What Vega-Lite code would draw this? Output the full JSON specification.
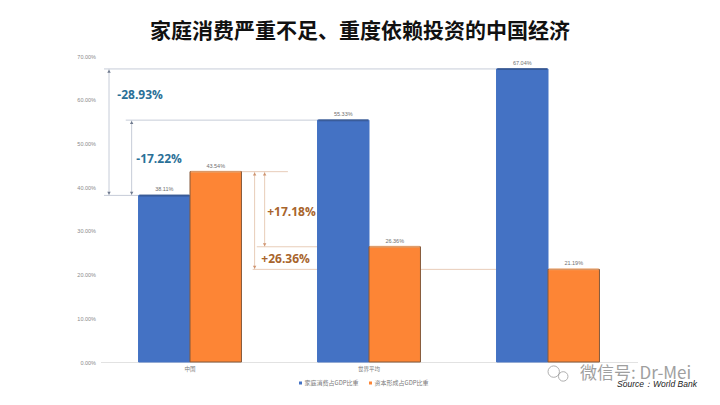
{"$schema":"https://vega.github.io/schema/vega-lite/v6.json","autosize":"none","padding":{"left":100.5,"top":56,"right":82.5,"bottom":43},"width":537,"height":306,"background":"white","title":{"text":"家庭消费严重不足、重度依赖投资的中国经济","font":"Noto Sans CJK SC","fontSize":21,"fontWeight":"bold","color":"#111111","anchor":"middle","frame":"group","dx":-9,"offset":12},"datasets":{"bars":[{"region":"中国","series":"家庭消费占GDP比重","value":0.3811},{"region":"中国","series":"资本形成占GDP比重","value":0.4354},{"region":"世界平均","series":"家庭消费占GDP比重","value":0.5533},{"region":"世界平均","series":"资本形成占GDP比重","value":0.2636},{"region":"美国","series":"家庭消费占GDP比重","value":0.6704},{"region":"美国","series":"资本形成占GDP比重","value":0.2119}],"lines":[{"group":"gap","a":0.0196,"b":2.215,"y":0.6704,"y2":0.6704},{"group":"gap","a":0.141,"b":1.215,"y":0.5533,"y2":0.5533},{"group":"gap","a":0.0196,"b":0.2095,"y":0.3811,"y2":0.3811},{"group":"gap","a":0.0475,"b":0.0475,"y":0.3811,"y2":0.6704},{"group":"gap","a":0.174,"b":0.174,"y":0.3811,"y2":0.5533},{"group":"excess","a":0.785,"b":1.047,"y":0.4354,"y2":0.4354},{"group":"excess","a":0.873,"b":1.215,"y":0.2636,"y2":0.2636},{"group":"excess","a":0.85,"b":2.5,"y":0.2119,"y2":0.2119},{"group":"excess","a":0.861,"b":0.861,"y":0.2119,"y2":0.4354},{"group":"excess","a":0.917,"b":0.917,"y":0.2636,"y2":0.4354}],"arrows":[{"group":"gap","dir":"triangle-up","a":0.0475,"y":0.665},{"group":"gap","dir":"triangle-down","a":0.0475,"y":0.386},{"group":"gap","dir":"triangle-up","a":0.174,"y":0.548},{"group":"gap","dir":"triangle-down","a":0.174,"y":0.386},{"group":"excess","dir":"triangle-up","a":0.861,"y":0.43},{"group":"excess","dir":"triangle-down","a":0.861,"y":0.217},{"group":"excess","dir":"triangle-up","a":0.917,"y":0.43},{"group":"excess","dir":"triangle-down","a":0.917,"y":0.268}],"notes":[{"group":"gap","label":"-28.93%","a":0.221,"y":0.611},{"group":"gap","label":"-17.22%","a":0.327,"y":0.4645},{"group":"excess","label":"+17.18%","a":1.067,"y":0.343},{"group":"excess","label":"+26.36%","a":1.034,"y":0.236}]},"layer":[{"data":{"name":"lines"},"mark":{"type":"rule","strokeWidth":1},"encoding":{"x":{"field":"a","type":"quantitative","scale":{"domain":[0,3],"nice":false,"zero":false},"axis":null},"x2":{"field":"b"},"y":{"field":"y","type":"quantitative","scale":{"domain":[0,0.7],"nice":false},"title":null,"axis":{"format":".2%","values":[0,0.1,0.2,0.3,0.4,0.5,0.6,0.7],"labelFontSize":5.5,"labelColor":"#8a8a8a","labelFont":"Liberation Sans","domain":false,"ticks":false,"grid":false,"labelPadding":5,"title":null}},"y2":{"field":"y2"},"color":{"condition":{"test":"datum.group==='gap'","value":"#c6ccd8"},"value":"#e8cdb9"}}},{"data":{"name":"bars"},"mark":{"type":"bar","strokeWidth":1},"encoding":{"x":{"field":"region","type":"nominal","sort":["中国","世界平均","美国"],"scale":{"paddingInner":0.425,"paddingOuter":0.2125},"title":null,"axis":{"labelAngle":0,"labelFontSize":5.5,"labelColor":"#7a7a7a","labelFont":"Noto Sans CJK SC","labelPadding":4,"ticks":false,"domainColor":"#e2e2e2","labelExpr":"datum.label==='美国'?'':datum.label"}},"xOffset":{"field":"series","type":"nominal","sort":["家庭消费占GDP比重","资本形成占GDP比重"],"scale":{"padding":0}},"y":{"field":"value","type":"quantitative"},"color":{"field":"series","type":"nominal","sort":["家庭消费占GDP比重","资本形成占GDP比重"],"scale":{"range":["#4472c4","#fd8535"]},"legend":{"title":null,"orient":"none","direction":"horizontal","legendX":197,"legendY":324,"symbolType":"square","symbolSize":9,"symbolStrokeWidth":0,"labelFontSize":6,"labelColor":"#7a7a7a","labelFont":"Noto Sans CJK SC","columnPadding":8,"labelOffset":1}},"stroke":{"condition":{"test":"datum.series==='资本形成占GDP比重'","value":"#84583a"},"value":"#4472c4"}}},{"data":{"name":"bars"},"mark":{"type":"tick","thickness":2,"size":50},"encoding":{"x":{"field":"region","type":"nominal","sort":["中国","世界平均","美国"],"scale":{"paddingInner":0.425,"paddingOuter":0.2125},"axis":null},"xOffset":{"field":"series","type":"nominal","sort":["家庭消费占GDP比重","资本形成占GDP比重"],"scale":{"padding":0}},"y":{"field":"value","type":"quantitative"},"color":{"condition":{"test":"datum.series==='资本形成占GDP比重'","value":"#f6ab72"},"value":"#2f4f85"}}},{"data":{"name":"bars"},"mark":{"type":"text","dy":-6,"fontSize":5.5,"color":"#707070","font":"Liberation Sans"},"encoding":{"x":{"field":"region","type":"nominal","sort":["中国","世界平均","美国"],"scale":{"paddingInner":0.425,"paddingOuter":0.2125},"axis":null},"xOffset":{"field":"series","type":"nominal","sort":["家庭消费占GDP比重","资本形成占GDP比重"],"scale":{"padding":0}},"y":{"field":"value","type":"quantitative"},"text":{"field":"value","type":"quantitative","format":".2%"}}},{"data":{"name":"arrows"},"mark":{"type":"point","filled":true,"size":12,"opacity":1},"encoding":{"x":{"field":"a","type":"quantitative","scale":{"domain":[0,3],"nice":false,"zero":false},"axis":null},"y":{"field":"y","type":"quantitative"},"shape":{"field":"dir","type":"nominal","scale":null},"color":{"condition":{"test":"datum.group==='gap'","value":"#6f7a8e"},"value":"#cf9470"}}},{"data":{"name":"notes"},"mark":{"type":"text","fontSize":12,"fontWeight":"bold","font":"Open Sans"},"encoding":{"x":{"field":"a","type":"quantitative","scale":{"domain":[0,3],"nice":false,"zero":false},"axis":null},"y":{"field":"y","type":"quantitative"},"text":{"field":"label"},"color":{"condition":{"test":"datum.group==='gap'","value":"#2a7097"},"value":"#a8642c"}}},{"data":{"values":[{"label":"微信号: Dr-Mei","a":2.679,"y":-0.0275}]},"mark":{"type":"text","fontSize":17,"align":"left","color":"#8f8f8f","font":"Noto Sans CJK SC","opacity":0.85},"encoding":{"x":{"field":"a","type":"quantitative","scale":{"domain":[0,3],"nice":false,"zero":false},"axis":null},"y":{"field":"y","type":"quantitative"},"text":{"field":"label"}}},{"data":{"values":[{"label":"Source：World Bank","a":2.886,"y":-0.0505}]},"mark":{"type":"text","fontSize":8.5,"fontStyle":"italic","align":"left","color":"#222222","font":"Liberation Sans"},"encoding":{"x":{"field":"a","type":"quantitative","scale":{"domain":[0,3],"nice":false,"zero":false},"axis":null},"y":{"field":"y","type":"quantitative"},"text":{"field":"label"}}},{"data":{"values":[{"a":2.532,"y":-0.022,"s":130},{"a":2.585,"y":-0.033,"s":90}]},"mark":{"type":"point","filled":false,"strokeWidth":1,"color":"#8f8f8f"},"encoding":{"x":{"field":"a","type":"quantitative","scale":{"domain":[0,3],"nice":false,"zero":false},"axis":null},"y":{"field":"y","type":"quantitative"},"size":{"field":"s","type":"quantitative","scale":null}}}],"resolve":{"scale":{"x":"independent","color":"independent"}},"config":{"view":{"stroke":null},"axis":{"grid":false}}}
